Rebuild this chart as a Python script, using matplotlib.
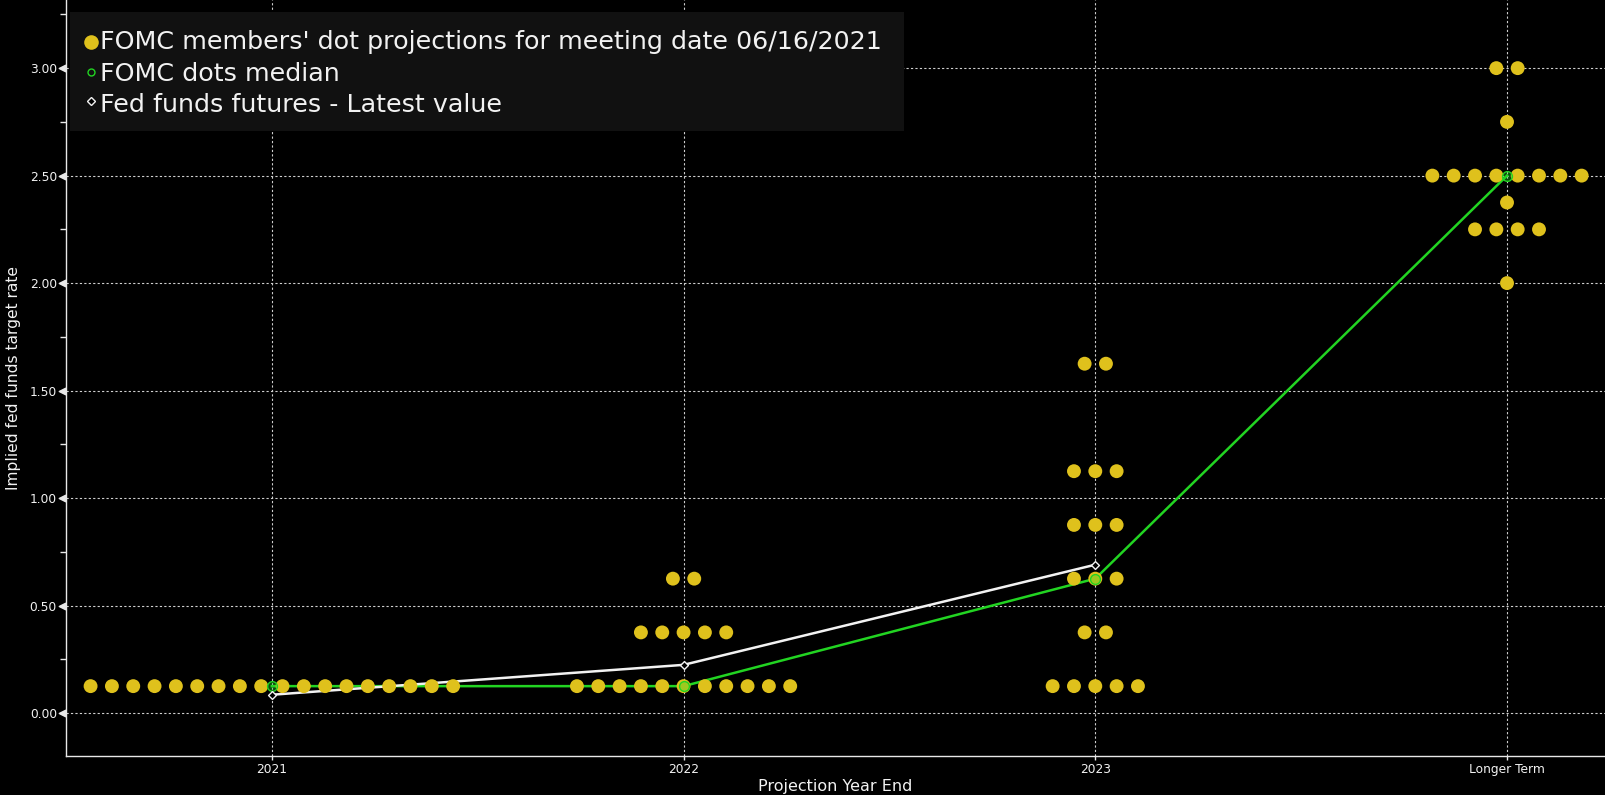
import matplotlib
matplotlib.use("Agg")
import matplotlib.pyplot as plt
from matplotlib.lines import Line2D
from matplotlib.patches import Rectangle
from matplotlib.transforms import blended_transform_factory, ScaledTranslation
import numpy as np

# ---- data ----
categories = ['2021', '2022', '2023', 'Longer Term']
# dot plot: (rate, number of participants) per category
dots_2021 = [(0.125, 18)]
dots_2022 = [(0.125, 11), (0.375, 5), (0.625, 2)]
dots_2023 = [(0.125, 5), (0.375, 2), (0.625, 3), (0.875, 3), (1.125, 3), (1.625, 2)]
dots_longer = [(2.0, 1), (2.25, 4), (2.375, 1), (2.5, 8), (2.75, 1), (3.0, 2)]
median_values = [0.125, 0.125, 0.625, 2.5]
futures_values = [0.085, 0.224, 0.69]
y_ticks = [0.0, 0.5, 1.0, 1.5, 2.0, 2.5, 3.0]

legend_labels = ["FOMC members' dot projections for meeting date 06/16/2021",
                 "FOMC dots median",
                 "Fed funds futures - Latest value"]

DOT_COLOR = '#dfc11c'
GREEN = '#22d422'
WHITE = '#f2f2f2'
GRID = '#cfcfcf'

W, H = 1605, 795
fig = plt.figure(figsize=(W / 100, H / 100), dpi=100, facecolor='black')
ax = fig.add_axes([66 / W, 1 - 756 / H, 1 - 66 / W, 756 / H])
ax.set_facecolor('black')

x_pos = np.arange(len(categories))
spacing = 0.0518

all_dots = [dots_2021, dots_2022, dots_2023, dots_longer]
for xc, groups in zip(x_pos, all_dots):
    for rate, n in groups:
        xs = xc + (np.arange(n) - (n - 1) / 2) * spacing
        ax.scatter(xs, [rate] * n, s=100, color=DOT_COLOR, edgecolors='none', zorder=3)

ax.plot(x_pos, median_values, color=GREEN, lw=1.8, zorder=2)
ax.scatter(x_pos, median_values, s=50, facecolors=(0.15, 0.85, 0.15, 0.35),
           edgecolors=GREEN, linewidths=1.0, zorder=4)
ax.plot(x_pos[:len(futures_values)], futures_values, color=WHITE, lw=1.8, zorder=2)
ax.scatter(x_pos[:len(futures_values)], futures_values, s=16, marker='D',
           facecolors='black', edgecolors=WHITE, linewidths=1.0, zorder=4)

ax.set_xlim(-0.5, 3.238)
ax.set_ylim(-0.2, 3.317)
ax.set_xticks(x_pos)
ax.set_xticklabels(categories)
ax.set_yticks(y_ticks)
ax.set_yticklabels([f'{v:.2f}' for v in y_ticks])
ax.set_yticks(np.arange(0.25, 3.3, 0.5), minor=True)

for s in ['top', 'right']:
    ax.spines[s].set_visible(False)
for s in ['left', 'bottom']:
    ax.spines[s].set_color('#e8e8e8')
    ax.spines[s].set_linewidth(1.0)

ax.tick_params(axis='y', which='major', length=0, pad=6.5, labelsize=8.8, colors=WHITE)
ax.tick_params(axis='y', which='minor', length=4, width=1, color='#e8e8e8', direction='out')
ax.tick_params(axis='x', which='major', length=3, width=1, color='#e8e8e8', pad=2,
               labelsize=8.8, labelcolor=WHITE)

# triangle tick markers on y axis
tr = blended_transform_factory(ax.transAxes, ax.transData) + \
    ScaledTranslation(-4.5 / 100, 0, fig.dpi_scale_trans)
ax.scatter([0] * len(y_ticks), y_ticks, marker='<', s=22, color='#e8e8e8',
           transform=tr, clip_on=False, zorder=5)

ax.grid(True, which='major', color=GRID, lw=0.8, linestyle=(0, (2, 2)), zorder=1)
ax.set_axisbelow(True)

ax.set_ylabel('Implied fed funds target rate', color=WHITE, fontsize=11.2, labelpad=6)
ax.set_xlabel('Projection Year End', color=WHITE, fontsize=11.5, labelpad=2)

# ---- legend box (drawn in figure pixel positions) ----
def fx(px):
    return px / W

def fy(py):
    return 1 - py / H

fig.add_artist(Rectangle((fx(70), fy(130.5)), fx(904) - fx(70), fy(12.3) - fy(130.5),
                         transform=fig.transFigure, facecolor='#111111',
                         edgecolor='none', zorder=10))
baselines = [49.3, 81.0, 111.7]
marker_y = [41.7, 71.7, 100.5]
marker_styles = [
    dict(marker='o', markersize=10.5, markerfacecolor=DOT_COLOR, markeredgecolor='none'),
    dict(marker='o', markersize=5, markerfacecolor='none', markeredgecolor=GREEN, markeredgewidth=1.0),
    dict(marker='D', markersize=4, markerfacecolor='black', markeredgecolor=WHITE, markeredgewidth=1.0),
]
for label, by, my, st in zip(legend_labels, baselines, marker_y, marker_styles):
    fig.add_artist(Line2D([fx(90.7)], [fy(my)], transform=fig.transFigure,
                          linestyle='none', zorder=11, **st))
    fig.text(fx(100), fy(by), label, color=WHITE, fontsize=18.3, family='DejaVu Sans',
             va='baseline', ha='left', zorder=11)

fig.savefig('out.png', dpi=100, facecolor='black')
